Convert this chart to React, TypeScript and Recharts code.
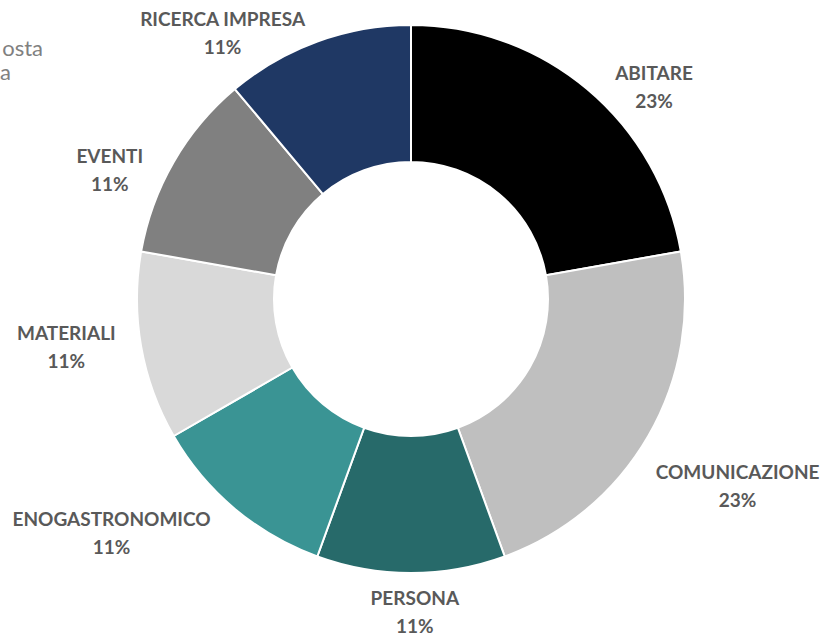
import { PieChart, Pie, Cell } from 'recharts';

const categories = [
  'ABITARE',
  'COMUNICAZIONE',
  'PERSONA',
  'ENOGASTRONOMICO',
  'MATERIALI',
  'EVENTI',
  'RICERCA IMPRESA',
];
const shares = [2, 2, 1, 1, 1, 1, 1];
const pctLabels = ['23%', '23%', '11%', '11%', '11%', '11%', '11%'];
const colors = ['#000000', '#BFBFBF', '#276A6A', '#3A9494', '#D9D9D9', '#808080', '#1F3864'];

// Excel "best fit" label placement: angular shift (deg) and distance from centre
const labelShift = [8.8, -0.3, -0.7, 12, 2.1, -6.7, -15.3];
const labelDist = [323, 376, 313, 380, 348, 328, 326];

const data = categories.map((name, i) => ({ name, value: shares[i], pct: pctLabels[i] }));

const FONT = 'Lato, "Open Sans", sans-serif';

function renderLabel(props: any) {
  const { cx, cy, midAngle, index } = props;
  const theta = ((90 - midAngle + labelShift[index]) * Math.PI) / 180;
  const d = labelDist[index];
  const x = cx + d * Math.sin(theta);
  const y = cy - d * Math.cos(theta);
  return (
    <g>
      <text
        x={x}
        y={y - 14}
        textAnchor="middle"
        dominantBaseline="central"
        fill="#595959"
        fontFamily={FONT}
        fontWeight={700}
        fontSize={19}
      >
        {data[index].name}
      </text>
      <text
        x={x}
        y={y + 14}
        textAnchor="middle"
        dominantBaseline="central"
        fill="#595959"
        fontFamily={FONT}
        fontWeight={700}
        fontSize={19}
      >
        {data[index].pct}
      </text>
    </g>
  );
}

export default function App() {
  return (
    <div style={{ position: 'absolute', left: 0, top: 0, width: 821, height: 638, background: '#fff' }}>
      <PieChart width={821} height={638} margin={{ top: 0, right: 0, bottom: 0, left: 0 }}>
        {/* legend text, only its tail is visible at the left edge */}
        <text x={43} y={47} textAnchor="end" dominantBaseline="central" fill="#808080" fontFamily={FONT} fontSize={22}>
          osta
        </text>
        <text x={11} y={71} textAnchor="end" dominantBaseline="central" fill="#808080" fontFamily={FONT} fontSize={22}>
          a
        </text>
        <Pie
          data={data}
          dataKey="value"
          nameKey="name"
          cx={411}
          cy={299}
          innerRadius={137}
          outerRadius={274}
          startAngle={90}
          endAngle={-270}
          stroke="#FFFFFF"
          strokeWidth={2}
          label={renderLabel}
          labelLine={false}
          isAnimationActive={false}
        >
          {data.map((d, i) => (
            <Cell key={d.name} fill={colors[i]} />
          ))}
        </Pie>
      </PieChart>
    </div>
  );
}
